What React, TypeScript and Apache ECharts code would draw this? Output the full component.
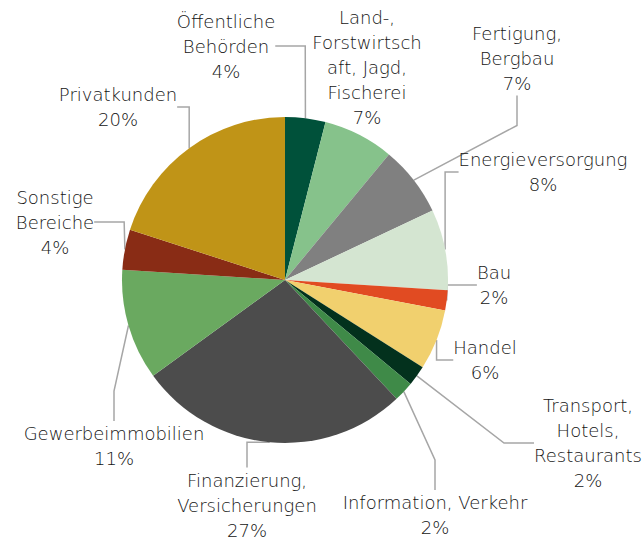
import React, { useEffect, useRef } from "react";
import * as echarts from "echarts";

const categories = [
  "Öffentliche\nBehörden",
  "Land-,\nForstwirtsch\naft, Jagd,\nFischerei",
  "Fertigung,\nBergbau",
  "Energieversorgung",
  "Bau",
  "Handel",
  "Transport,\nHotels,\nRestaurants",
  "Information, Verkehr",
  "Finanzierung,\nVersicherungen",
  "Gewerbeimmobilien",
  "Sonstige\nBereiche",
  "Privatkunden",
];
const shares = [4, 7, 7, 8, 2, 6, 2, 2, 27, 11, 4, 20];
const colors = [
  "#00513a", "#86c28b", "#808080", "#d4e5d1", "#e14b22", "#f1d06e",
  "#03311d", "#3f8a48", "#4c4c4c", "#6aa960", "#892c15", "#c09417",
];
// label anchor (centre of text block), in chart pixels
const labelPos: [number, number][] = [
  [226, 46], [367, 67], [517, 58], [543, 172], [494, 285], [485, 360],
  [588, 443], [435, 515], [247, 505], [114, 446], [55, 222], [118, 107],
];

export default function App() {
  const ref = useRef<HTMLDivElement>(null);
  useEffect(() => {
    const chart = echarts.init(ref.current!, null, { renderer: "svg" });
    chart.setOption({
      animation: false,
      textStyle: { fontFamily: "DejaVu Sans" },
      series: [
        {
          type: "pie",
          center: [285, 280],
          radius: [0, 163],
          startAngle: 90,
          clockwise: true,
          avoidLabelOverlap: false,
          data: categories.map((name, i) => ({
            name,
            value: shares[i],
            itemStyle: { color: colors[i] },
            labelLine: { show: i !== 1 },
          })),
          label: {
            show: true,
            formatter: "{b}\n{d}%",
            fontSize: 18,
            fontWeight: 300,
            lineHeight: 25,
            color: "#141414",
            align: "center",
            fontFamily: "DejaVu Sans",
          },
          labelLine: {
            show: true,
            lineStyle: { color: "#a6a6a6", width: 1.5 },
          },
          labelLayout: (params: any) => {
            const p = labelPos[params.dataIndex];
            return { x: p[0], y: p[1], align: "center", verticalAlign: "middle" };
          },
          emphasis: { disabled: true },
        },
      ],
    });
    return () => chart.dispose();
  }, []);
  return (
    <div
      ref={ref}
      style={{ position: "fixed", left: 0, top: 0, width: 643, height: 542, background: "#fff" }}
    />
  );
}
